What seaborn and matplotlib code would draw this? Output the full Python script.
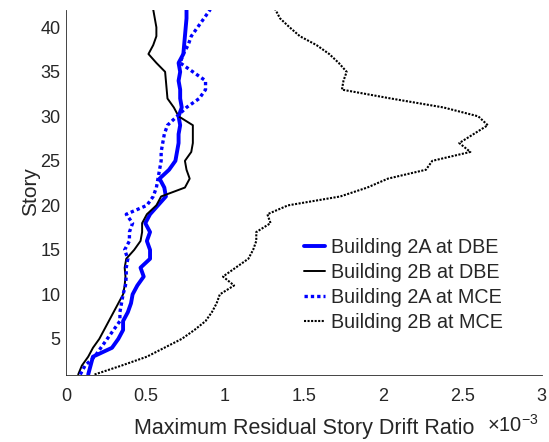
import matplotlib
matplotlib.use("Agg")
import matplotlib.pyplot as plt
import pandas as pd
import seaborn as sns
from matplotlib.ticker import FixedLocator, FuncFormatter

# Story numbers (1 = ground level story, 42 = roof)
stories = list(range(1, 43))

# Maximum residual story drift ratio per story, in units of 1e-3
drift_2a_dbe = [0.14, 0.155, 0.17, 0.29, 0.33, 0.36, 0.36, 0.39, 0.41, 0.42,
                0.45, 0.49, 0.47, 0.53, 0.53, 0.51, 0.53, 0.50, 0.53, 0.58,
                0.63, 0.62, 0.59, 0.65, 0.69, 0.70, 0.71, 0.71, 0.72, 0.71,
                0.73, 0.72, 0.72, 0.71, 0.72, 0.71, 0.74, 0.745, 0.75, 0.755,
                0.76, 0.76]
drift_2b_dbe = [0.077, 0.10, 0.14, 0.17, 0.21, 0.24, 0.27, 0.30, 0.33, 0.36,
                0.37, 0.375, 0.37, 0.38, 0.43, 0.47, 0.48, 0.48, 0.51, 0.57,
                0.60, 0.75, 0.78, 0.76, 0.75, 0.79, 0.80, 0.80, 0.80, 0.71,
                0.68, 0.64, 0.635, 0.63, 0.625, 0.57, 0.52, 0.55, 0.57, 0.57,
                0.56, 0.55]
drift_2a_mce = [0.09, 0.12, 0.18, 0.22, 0.26, 0.30, 0.34, 0.34, 0.35, 0.36,
                0.375, 0.38, 0.38, 0.39, 0.37, 0.40, 0.40, 0.42, 0.38, 0.51,
                0.55, 0.57, 0.58, 0.59, 0.60, 0.60, 0.61, 0.62, 0.64, 0.70,
                0.76, 0.84, 0.88, 0.88, 0.80, 0.72, 0.74, 0.77, 0.79, 0.83,
                0.87, 0.91]
drift_2b_mce = [0.18, 0.35, 0.51, 0.62, 0.73, 0.81, 0.88, 0.92, 0.95, 0.97,
                1.06, 0.99, 1.07, 1.15, 1.18, 1.20, 1.20, 1.29, 1.27, 1.40,
                1.73, 1.90, 2.03, 2.27, 2.31, 2.55, 2.48, 2.57, 2.66, 2.60,
                2.38, 2.05, 1.74, 1.75, 1.77, 1.72, 1.66, 1.58, 1.475, 1.41,
                1.35, 1.32]

series_names = ["Building 2A at DBE", "Building 2B at DBE",
                "Building 2A at MCE", "Building 2B at MCE"]
x_ticks = [0, 0.5, 1, 1.5, 2, 2.5, 3]
y_ticks = [5, 10, 15, 20, 25, 30, 35, 40]

df = pd.concat(
    [pd.DataFrame({"series": name, "story": stories, "drift": vals})
     for name, vals in zip(series_names,
                           [drift_2a_dbe, drift_2b_dbe, drift_2a_mce, drift_2b_mce])],
    ignore_index=True,
)

sns.set_theme(style="white")
plt.rcParams["font.family"] = ["Liberation Sans", "DejaVu Sans"]
plt.rcParams["mathtext.fontset"] = "custom"
plt.rcParams["mathtext.rm"] = "Liberation Sans"
plt.rcParams["mathtext.it"] = "Liberation Sans:italic"

axis_grey = "#262626"
styles = {
    "Building 2A at DBE": dict(color="#0000ff", lw=2.8, ls="-"),
    "Building 2B at DBE": dict(color="black", lw=1.4, ls="-"),
    "Building 2A at MCE": dict(color="#0000ff", lw=2.4, ls=(0, (1.0, 0.9))),
    "Building 2B at MCE": dict(color="black", lw=1.5, ls=(0, (1.0, 0.7))),
}

fig = plt.figure(figsize=(5.49, 4.42), dpi=100)
ax = fig.add_axes([66 / 549, 67.5 / 442, (541.7 - 66) / 549, (374.5 - 9.5) / 442])

for name in series_names:
    st = styles[name]
    sns.lineplot(data=df[df["series"] == name], x="drift", y="story",
                 orient="y", estimator=None, color=st["color"],
                 linewidth=st["lw"], linestyle=st["ls"], label=name, ax=ax)

ax.set_xlim(0, 3)
ax.set_ylim(1, 42)
ax.xaxis.set_major_locator(FixedLocator(x_ticks))
ax.yaxis.set_major_locator(FixedLocator(y_ticks))
ax.xaxis.set_major_formatter(FuncFormatter(lambda v, p: f"{v:g}"))
ax.yaxis.set_major_formatter(FuncFormatter(lambda v, p: f"{v:g}"))

for side in ("top", "right"):
    ax.spines[side].set_visible(False)
for side in ("left", "bottom"):
    ax.spines[side].set_color(axis_grey)
    ax.spines[side].set_linewidth(0.6)

ax.tick_params(axis="both", direction="in", length=3.5, width=0.6,
               colors=axis_grey, labelsize=13)
ax.tick_params(axis="x", pad=10)
ax.tick_params(axis="y", pad=4)

ax.set_xlabel("Maximum Residual Story Drift Ratio", fontsize=15.5,
              color=axis_grey, labelpad=9)
ax.set_ylabel("Story", fontsize=15, color=axis_grey, labelpad=0)

fig.text(487 / 549, (442 - 432) / 442, r"$\times10^{-3}$", ha="left",
         va="baseline", fontsize=14.5, color=axis_grey)

ax.legend(loc="upper left", bbox_to_anchor=(304 / 549, (442 - 238) / 442),
          bbox_transform=fig.transFigure, frameon=False, fontsize=14.2,
          handlelength=1.05, handletextpad=0.3, labelspacing=0.3,
          borderpad=0, borderaxespad=0)

fig.savefig("out.png", dpi=100)
